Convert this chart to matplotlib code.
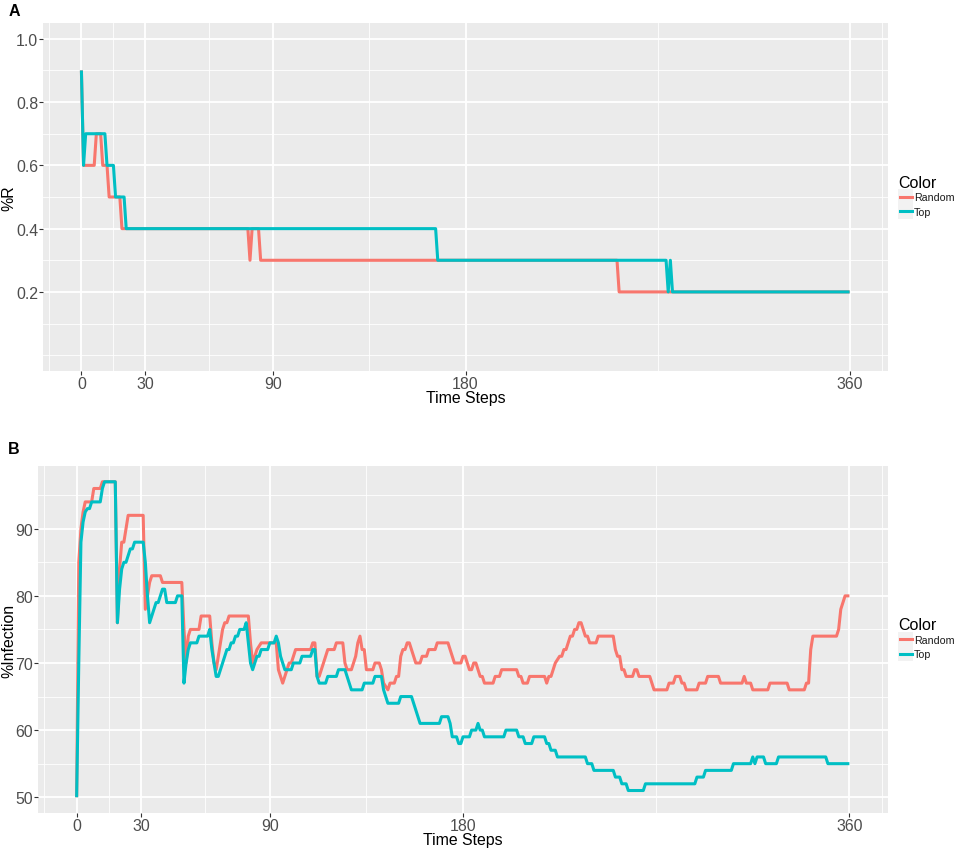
import numpy as np
import matplotlib
matplotlib.use("Agg")
import matplotlib.pyplot as plt
from matplotlib.lines import Line2D
from matplotlib.patches import Rectangle

plt.rcParams['font.family'] = ['Liberation Sans', 'DejaVu Sans']

W, H = 957, 854
RED = '#F8766D'
TEAL = '#00BFC4'

# x axis breaks (shared)
x_breaks = [0, 30, 90, 180, 360]
x_minor = [-15, 15, 60, 135, 270, 375]

# panel A : %R, vertices (time step, value)
random_a = [(0, 0.9), (1, 0.6), (6, 0.6), (7, 0.7), (9, 0.7), (10, 0.6), (12, 0.6),
            (13, 0.5), (18, 0.5), (19, 0.4), (78, 0.4), (79, 0.3), (80, 0.4), (83, 0.4),
            (84, 0.3), (251, 0.3), (252, 0.2), (360, 0.2)]
top_a = [(0, 0.9), (1, 0.6), (2, 0.7), (11, 0.7), (12, 0.6), (15, 0.6), (16, 0.5),
         (20, 0.5), (21, 0.4), (166, 0.4), (167, 0.3), (274, 0.3), (275, 0.2), (276, 0.3),
         (277, 0.2), (360, 0.2)]
a_ticks = [0.2, 0.4, 0.6, 0.8, 1.0]
a_labels = ['0.2', '0.4', '0.6', '0.8', '1.0']
a_minor = [0.0, 0.1, 0.3, 0.5, 0.7, 0.9]

# panel B : %Infection
random_b = [(0, 50), (1, 85), (2, 90), (3, 92.5), (4, 94), (7, 94), (8, 96), (11, 96), (12, 97),
            (18, 97), (19, 76), (20, 84), (21, 88), (22, 88), (23, 90), (24, 92), (31, 92),
            (32, 78), (33, 80), (34, 82), (35, 83), (39, 83), (40, 82), (49, 82), (50, 75),
            (51, 70), (52, 74), (53, 75), (57, 75), (58, 77), (62, 77), (63, 73), (64, 70),
            (65, 69), (66, 71), (67, 73), (68, 75), (69, 76), (70, 76), (71, 77), (80, 77),
            (81, 73), (82, 70), (83, 71), (84, 72), (86, 73), (93, 73), (94, 69), (95, 68),
            (96, 67), (97, 68), (98, 69), (99, 70), (100, 70), (101, 71), (102, 72), (109, 72),
            (110, 73), (111, 73), (112, 68), (113, 68), (114, 69), (115, 70), (116, 71),
            (117, 72), (120, 72), (121, 73), (124, 73), (125, 70), (126, 69), (128, 69),
            (129, 70), (130, 71), (131, 73), (132, 74), (133, 72), (134, 72), (135, 69),
            (138, 69), (139, 70), (141, 70), (142, 69), (143, 67), (145, 66), (146, 67),
            (148, 67), (149, 68), (150, 68), (151, 71), (152, 72), (153, 72), (154, 73),
            (155, 73), (156, 72), (157, 71), (158, 70), (160, 70), (161, 71), (163, 71),
            (164, 72), (167, 72), (168, 73), (173, 73), (174, 72), (175, 71), (176, 70),
            (179, 70), (180, 71), (181, 71), (182, 70), (183, 69), (184, 69), (185, 70),
            (186, 70), (187, 69), (188, 68), (189, 68), (190, 67), (194, 67), (195, 68),
            (197, 68), (198, 69), (205, 69), (206, 68), (207, 68), (208, 67), (210, 67),
            (211, 68), (218, 68), (219, 67), (220, 68), (221, 68), (222, 69), (223, 70),
            (225, 71), (226, 71), (227, 72), (228, 72), (229, 73), (230, 74), (231, 74),
            (232, 75), (233, 75), (234, 76), (235, 76), (236, 75), (237, 74), (238, 74),
            (239, 73), (242, 73), (243, 74), (250, 74), (251, 72), (252, 71), (253, 71),
            (254, 69), (255, 69), (256, 68), (259, 68), (260, 69), (261, 69), (262, 68),
            (267, 68), (268, 67), (269, 66), (275, 66), (276, 67), (278, 67), (279, 68),
            (281, 68), (282, 67), (283, 67), (284, 66), (289, 66), (290, 67), (293, 67),
            (294, 68), (299, 68), (300, 67), (310, 67), (311, 68), (312, 67), (314, 67),
            (315, 66), (322, 66), (323, 67), (331, 67), (332, 66), (339, 66), (340, 67),
            (341, 67), (342, 72), (343, 74), (354, 74), (355, 75), (356, 78), (357, 79),
            (358, 80), (360, 80)]
top_b = [(0, 50), (1, 70), (2, 88), (3, 91), (4, 92.5), (5, 93), (6, 93), (7, 94), (11, 94),
         (12, 96), (13, 97), (18, 97), (19, 76), (20, 81), (21, 84), (22, 85), (23, 85),
         (24, 86), (25, 87), (26, 87), (27, 88), (31, 88), (32, 85), (33, 80), (34, 76),
         (35, 77), (36, 78), (37, 79), (38, 79), (39, 80), (40, 81), (41, 81), (42, 79),
         (46, 79), (47, 80), (49, 80), (50, 67), (51, 70), (52, 72), (53, 73), (56, 73),
         (57, 74), (61, 74), (62, 75), (63, 72), (64, 70), (65, 68), (66, 68), (67, 69),
         (68, 70), (69, 71), (70, 72), (71, 72), (72, 73), (73, 73), (74, 74), (75, 74),
         (76, 75), (78, 75), (79, 76), (80, 73), (81, 70), (82, 69), (83, 70), (84, 71),
         (85, 71), (86, 72), (89, 72), (90, 73), (92, 73), (93, 74), (94, 73), (95, 71),
         (96, 70), (97, 69), (100, 69), (101, 70), (104, 70), (105, 71), (109, 71), (110, 72),
         (111, 72), (112, 68), (113, 67), (116, 67), (117, 68), (121, 68), (122, 69),
         (125, 69), (126, 68), (127, 67), (128, 66), (133, 66), (134, 67), (138, 67),
         (139, 68), (142, 68), (143, 66), (144, 65), (145, 64), (150, 64), (151, 65),
         (156, 65), (157, 64), (158, 63), (159, 62), (160, 61), (169, 61), (170, 62),
         (173, 62), (174, 61), (175, 59), (177, 59), (178, 58), (179, 58), (180, 59),
         (183, 59), (184, 60), (186, 60), (187, 61), (188, 60), (189, 60), (190, 59),
         (199, 59), (200, 60), (205, 60), (206, 59), (208, 59), (209, 58), (212, 58),
         (213, 59), (218, 59), (219, 58), (220, 58), (221, 57), (223, 57), (224, 56),
         (237, 56), (238, 55), (240, 55), (241, 54), (250, 54), (251, 53), (253, 53),
         (254, 52), (256, 52), (257, 51), (264, 51), (265, 52), (288, 52), (289, 53),
         (292, 53), (293, 54), (305, 54), (306, 55), (314, 55), (315, 56), (316, 55),
         (317, 56), (320, 56), (321, 55), (326, 55), (327, 56), (349, 56), (350, 55),
         (360, 55)]
b_ticks = [50, 60, 70, 80, 90]
b_labels = ['50', '60', '70', '80', '90']
b_minor = [55, 65, 75, 85, 95]

series_names = ['Random', 'Top']


def px_box(l, t, r, b):
    return [l / W, 1 - b / H, (r - l) / W, (b - t) / H]


def style(ax, ylim, ticks, labels, minor, ylabel, lab_x):
    ax.set_facecolor('#EBEBEB')
    for s in ax.spines.values():
        s.set_visible(False)
    ax.set_xlim(-18, 378)
    ax.set_ylim(*ylim)
    ax.set_xticks(x_breaks)
    ax.set_xticklabels([str(b) for b in x_breaks])
    ax.set_xticks(x_minor, minor=True)
    ax.set_yticks(ticks)
    ax.set_yticklabels(labels)
    ax.set_yticks(minor, minor=True)
    ax.grid(which='major', color='white', lw=1.3)
    ax.grid(which='minor', color='white', lw=0.6)
    ax.set_axisbelow(True)
    ax.tick_params(which='major', length=3, width=0.8, color='#333333',
                   labelsize=11.4, labelcolor='#4D4D4D', pad=0.5)
    ax.tick_params(which='minor', length=0)
    ax.set_xlabel('Time Steps', fontsize=11.4, color='black', va='baseline')
    ax.xaxis.set_label_coords(0.5, -0.089)
    ax.set_ylabel(ylabel, fontsize=11.4, color='black', va='center')
    ax.yaxis.set_label_coords(lab_x, 0.5)


def legend(center_y):
    fig.text(898 / W, 1 - (center_y - 10.3) / H, 'Color', fontsize=11.5,
             ha='left', va='baseline')
    for k, (name, col) in enumerate(zip(series_names, [RED, TEAL])):
        ky = center_y - 0.4 + 14.6 * k
        fig.patches.append(Rectangle((898 / W, 1 - (ky + 7.3) / H), 15 / W, 14.6 / H,
                                     transform=fig.transFigure, facecolor='#F2F2F2',
                                     edgecolor='none'))
        fig.lines.append(Line2D([899.5 / W, 911.5 / W], [1 - ky / H, 1 - ky / H],
                                transform=fig.transFigure, color=col, lw=2.2))
        fig.text(914 / W, 1 - (ky + 3.8) / H, name, fontsize=7.7, color='#1A1A1A',
                 ha='left', va='baseline')


fig = plt.figure(figsize=(W / 100, H / 100), dpi=100)
axA = fig.add_axes(px_box(43, 24, 888, 372))
axB = fig.add_axes(px_box(38, 467, 888, 814))

style(axA, (-0.05, 1.05), a_ticks, a_labels, a_minor, '%R', (9.0 - 43) / 845)
style(axB, (47.65, 99.35), b_ticks, b_labels, b_minor, '%Infection', (9.0 - 38) / 850)

for ax, data in [(axA, [random_a, top_a]), (axB, [random_b, top_b])]:
    for pts, col in zip(data, [RED, TEAL]):
        t, v = zip(*pts)
        ax.plot(t, v, color=col, lw=2.2, solid_joinstyle='round', solid_capstyle='butt')

fig.text(14 / W, 1 - 12 / H, 'A', fontsize=11.5, weight='bold', ha='center', va='center')
fig.text(14 / W, 1 - 450 / H, 'B', fontsize=11.5, weight='bold', ha='center', va='center')

legend(198)
legend(640.5)

fig.savefig('out.png', dpi=100)
